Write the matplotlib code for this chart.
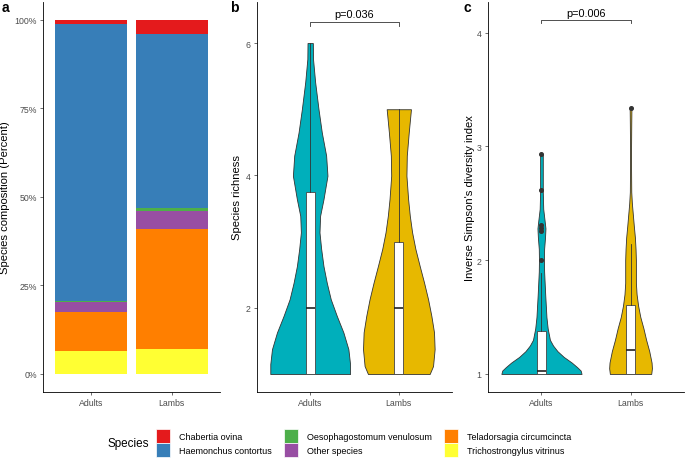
import matplotlib
matplotlib.use("Agg")
import matplotlib.pyplot as plt
from matplotlib.patches import Patch
import numpy as np

plt.rcParams["font.family"] = ["Liberation Sans", "DejaVu Sans"]

groups = ["Adults", "Lambs"]
group_colors = ["#00AFBB", "#E7B800"]

# panel a: species composition (percent), same order as legend
species = ["Chabertia ovina", "Haemonchus contortus", "Oesophagostomum venulosum",
           "Other species", "Teladorsagia circumcincta", "Trichostrongylus vitrinus"]
species_colors = ["#E41A1C", "#377EB8", "#4DAF4A", "#984EA3", "#FF7F00", "#FFFF33"]
adults_pct = [1.2, 78.2, 0.4, 2.6, 11.1, 6.5]
lambs_pct = [3.9, 49.3, 0.9, 5.0, 33.9, 7.0]

# panel b: species richness, violin outline (value, half width) and box stats
rich_adults_y = [1.0, 1.15, 1.375, 1.627, 1.879, 2.13, 2.38, 2.63, 2.89, 3.14, 3.39, 3.64, 3.995, 4.30, 4.65, 5.00, 5.41, 5.76, 6.0]
rich_adults_w = [0.45, 0.45, 0.431, 0.375, 0.30, 0.232, 0.187, 0.150, 0.124, 0.105, 0.112, 0.150, 0.195, 0.180, 0.131, 0.094, 0.056, 0.032, 0.030]
rich_lambs_y = [1.0, 1.12, 1.375, 1.63, 1.88, 2.13, 2.38, 2.63, 2.89, 3.14, 3.39, 3.64, 3.995, 4.30, 4.65, 5.0]
rich_lambs_w = [0.348, 0.386, 0.404, 0.397, 0.367, 0.33, 0.285, 0.236, 0.187, 0.15, 0.124, 0.105, 0.086, 0.09, 0.112, 0.137]
rich_q1 = [1.0, 1.0]
rich_med = [2.0, 2.0]
rich_q3 = [3.75, 3.0]
rich_lo = [1.0, 1.0]
rich_hi = [6.0, 5.0]
rich_out = [[], []]
rich_p = "p=0.036"

# panel c: inverse Simpson index
simp_adults_y = [1.0, 1.03, 1.06, 1.10, 1.15, 1.2, 1.25, 1.3, 1.4, 1.5, 1.7, 1.9, 2.0, 2.1, 2.2, 2.28, 2.35, 2.45, 2.6, 2.8, 2.93]
simp_adults_w = [0.45, 0.44, 0.40, 0.34, 0.25, 0.18, 0.13, 0.095, 0.07, 0.056, 0.042, 0.03, 0.028, 0.03, 0.04, 0.045, 0.035, 0.02, 0.015, 0.015, 0.015]
simp_lambs_y = [1.0, 1.05, 1.1, 1.2, 1.3, 1.4, 1.5, 1.6, 1.7, 1.8, 1.9, 2.0, 2.1, 2.2, 2.3, 2.4, 2.5, 2.6, 2.8, 3.0, 3.2, 3.34]
simp_lambs_w = [0.232, 0.24, 0.236, 0.21, 0.175, 0.145, 0.11, 0.085, 0.068, 0.06, 0.06, 0.06, 0.056, 0.049, 0.037, 0.026, 0.015, 0.008, 0.006, 0.006, 0.008, 0.01]
simp_q1 = [1.0, 1.0]
simp_med = [1.03, 1.21]
simp_q3 = [1.38, 1.61]
simp_lo = [1.0, 1.0]
simp_hi = [1.89, 2.14]
simp_out = [[2.0, 2.26, 2.28, 2.31, 2.62, 2.93], [3.34]]
simp_p = "p=0.006"

TICK_COL = "#4D4D4D"
W, H = 685, 460


def style_axis(ax):
    for side in ("top", "right"):
        ax.spines[side].set_visible(False)
    for side in ("left", "bottom"):
        ax.spines[side].set_linewidth(0.6)
        ax.spines[side].set_color("black")
    ax.tick_params(length=2.5, width=0.5, color="#333333", labelsize=6.3,
                   labelcolor=TICK_COL, pad=2)
    ax.set_xlim(0.4, 2.6)
    ax.set_xticks([1, 2])
    ax.set_xticklabels(groups)


def violin_panel(ax, profiles, q1, med, q3, lo, hi, outs, ptext, bracket_y, tick_h):
    for i, (ys, ws) in enumerate(profiles):
        x = i + 1
        ys = np.asarray(ys)
        ws = np.asarray(ws)
        ax.fill_betweenx(ys, x - ws, x + ws, facecolor=group_colors[i],
                         edgecolor="#333333", linewidth=0.6, zorder=2)
    stats = []
    for i in range(2):
        stats.append({"q1": q1[i], "med": med[i], "q3": q3[i], "whislo": lo[i],
                      "whishi": hi[i], "fliers": outs[i]})
    ax.bxp(stats, positions=[1, 2], widths=0.1, patch_artist=True, showcaps=False,
           manage_ticks=False,
           boxprops=dict(facecolor="white", edgecolor="#444444", linewidth=0.6),
           medianprops=dict(color="#222222", linewidth=1.2),
           whiskerprops=dict(color="#333333", linewidth=0.6),
           flierprops=dict(marker="o", markersize=2.6, markerfacecolor="#333333",
                           markeredgecolor="#333333"),
           zorder=3)
    ax.plot([1, 1, 2, 2], [bracket_y - tick_h, bracket_y, bracket_y, bracket_y - tick_h],
            color="#333333", linewidth=0.6)
    ax.text(1.5, bracket_y + tick_h * 0.6, ptext, ha="center", va="bottom", fontsize=7.8)


fig = plt.figure(figsize=(W / 100, H / 100), dpi=100)
bottom = (H - 392.7) / H
height = (392.7 - 3) / H
ax_a = fig.add_axes([43 / W, bottom, 177 / W, height])
ax_b = fig.add_axes([257 / W, bottom, 195 / W, height])
ax_c = fig.add_axes([488 / W, bottom, 196 / W, height])

# panel a
style_axis(ax_a)
base = np.zeros(2)
for k in range(len(species) - 1, -1, -1):
    vals = np.array([adults_pct[k], lambs_pct[k]])
    ax_a.bar([1, 2], vals, width=0.9, bottom=base, color=species_colors[k], linewidth=0)
    base += vals
ax_a.set_ylim(-5, 105)
ax_a.set_yticks([0, 25, 50, 75, 100])
ax_a.set_yticklabels(["0%", "25%", "50%", "75%", "100%"])
ax_a.set_ylabel("Species composition (Percent)", fontsize=8.1, labelpad=3)

# panel b
style_axis(ax_b)
violin_panel(ax_b, [(rich_adults_y, rich_adults_w), (rich_lambs_y, rich_lambs_w)],
             rich_q1, rich_med, rich_q3, rich_lo, rich_hi, rich_out, rich_p, 6.32, 0.06)
ax_b.set_ylim(0.733, 6.62)
ax_b.set_yticks([2, 4, 6])
ax_b.set_ylabel("Species richness", fontsize=8.1, labelpad=3)

# panel c
style_axis(ax_c)
violin_panel(ax_c, [(simp_adults_y, simp_adults_w), (simp_lambs_y, simp_lambs_w)],
             simp_q1, simp_med, simp_q3, simp_lo, simp_hi, simp_out, simp_p, 4.114, 0.03)
ax_c.set_ylim(0.844, 4.27)
ax_c.set_yticks([1, 2, 3, 4])
ax_c.set_ylabel("Inverse Simpson's diversity index", fontsize=8.1, labelpad=1.5)

for x, letter in ((2, "a"), (230, "b"), (463, "c")):
    fig.text(x / W, 1 - 1 / H, letter, fontsize=10, fontweight="bold", ha="left", va="top")

handles = [Patch(facecolor=c, edgecolor="white", linewidth=0.5) for c in species_colors]
fig.legend(handles, species, loc="center left", bbox_to_anchor=(156 / W, (H - 444) / H),
           ncol=3, frameon=False, fontsize=6.5, handlelength=1.6, handleheight=1.95,
           labelspacing=0.0, handletextpad=0.9, columnspacing=1.4,
           borderpad=0, borderaxespad=0)
fig.text(107 / W, (H - 444) / H, "Species", fontsize=8.4, ha="left", va="center")

fig.savefig("out.png", dpi=100)
